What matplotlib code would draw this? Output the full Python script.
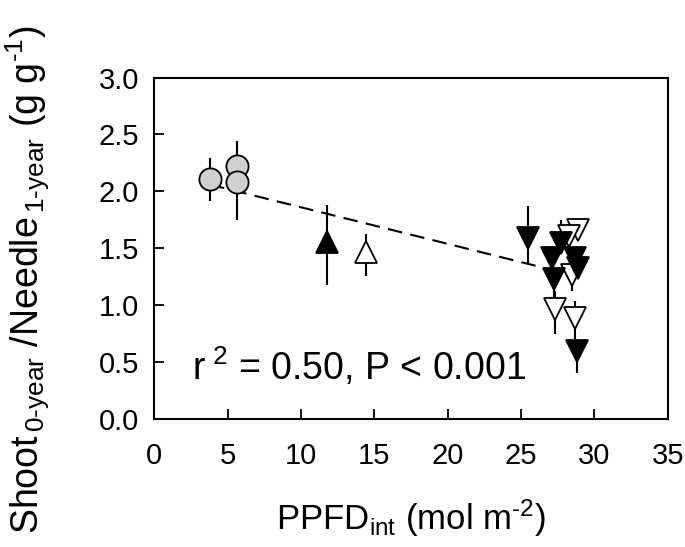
import matplotlib.pyplot as plt

plt.rcParams['font.family'] = ['Liberation Sans', 'DejaVu Sans']
plt.rcParams['mathtext.fontset'] = 'custom'
plt.rcParams['mathtext.rm'] = 'Liberation Sans'
plt.rcParams['mathtext.it'] = 'Liberation Sans'

# gray circles
circ_x = [3.8, 5.66, 5.66]
circ_y = [2.11, 2.22, 2.08]
circ_lo = [0.19, 0.10, 0.33]
circ_hi = [0.18, 0.22, 0.10]

# filled up triangle
fup_x = [11.78]
fup_y = [1.56]
fup_lo = [0.38]
fup_hi = [0.32]

# open up triangle
oup_x = [14.44]
oup_y = [1.47]
oup_lo = [0.21]
oup_hi = [0.16]

# filled down triangles
fdn_x = [25.5, 27.7, 27.1, 28.7, 28.9, 27.25, 28.8]
fdn_y = [1.59, 1.55, 1.42, 1.42, 1.33, 1.23, 0.60]
fdn_lo = [0.22, 0.05, 0.05, 0.05, 0.05, 0.18, 0.19]
fdn_hi = [0.28, 0.20, 0.05, 0.05, 0.05, 0.05, 0.05]

# open down triangles
odn_x = [28.9, 28.3, 28.5, 27.3, 28.7]
odn_y = [1.66, 1.61, 1.27, 0.97, 0.89]
odn_lo = [0.05, 0.05, 0.14, 0.22, 0.21]
odn_hi = [0.05, 0.10, 0.05, 0.16, 0.15]

# regression line
reg_x = [3.8, 26.4]
reg_y = [2.06, 1.335]

fig = plt.figure(figsize=(6.85, 5.47), dpi=100)
ax = fig.add_axes([0.2253, 0.2334, 0.7494, 0.6249])

ax.plot(reg_x, reg_y, color='black', lw=1.5, dashes=(7, 4), zorder=1)

def group(x, y, lo, hi, marker, fc, ms):
    ax.errorbar(x, y, yerr=[lo, hi], fmt='none', ecolor='black', elinewidth=1.5, capsize=0, zorder=2)
    ax.plot(x, y, linestyle='none', marker=marker, markersize=ms, markerfacecolor=fc,
            markeredgecolor='black', markeredgewidth=1.3, zorder=3)

group(circ_x, circ_y, circ_lo, circ_hi, 'o', '#d0d0d0', 16)
group(fup_x, fup_y, fup_lo, fup_hi, '^', 'black', 15.5)
group(oup_x, oup_y, oup_lo, oup_hi, '^', 'white', 15.5)
group(odn_x, odn_y, odn_lo, odn_hi, 'v', 'white', 15.5)
group(fdn_x, fdn_y, fdn_lo, fdn_hi, 'v', 'black', 15.5)

ax.set_xlim(0, 35)
ax.set_ylim(0, 3.0)
ax.set_xticks([0, 5, 10, 15, 20, 25, 30, 35])
ax.set_yticks([0, 0.5, 1.0, 1.5, 2.0, 2.5, 3.0])
ax.set_yticklabels(['0.0', '0.5', '1.0', '1.5', '2.0', '2.5', '3.0'])
ax.tick_params(direction='in', length=7, width=1.3, labelsize=21, pad=11,
               top=False, right=False)
ax.tick_params(axis='x', pad=16)
for s in ax.spines.values():
    s.set_linewidth(1.5)

ax.text(2.6, 0.46, r'r$^{\,\,2}$ = 0.50, P < 0.001', fontsize=27, va='center', ha='left')

ax.set_xlabel(r'PPFD$_{\rm int}$ (mol m$^{\text{-}2}$)', fontsize=25, labelpad=20)
ax.set_ylabel(r'Shoot$_{\,\rm 0\text{-}year}$ /Needle$_{\,\rm 1\text{-}year}$ (g g$^{\text{-}1}$)', fontsize=27)
ax.yaxis.set_label_coords(-0.20, 0.41)

fig.savefig('out.png', dpi=100)
